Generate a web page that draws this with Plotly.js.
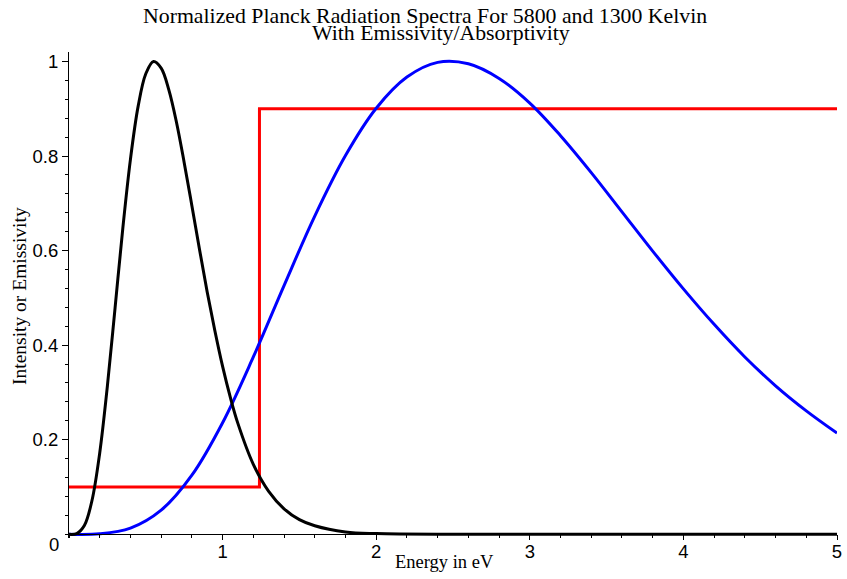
<!DOCTYPE html>
<html>
<head>
<meta charset="utf-8">
<script src="https://cdn.plot.ly/plotly-3.0.1.min.js"></script>
<style>html,body{margin:0;padding:0;background:#fff;}#chart{width:847px;height:579px;}</style>
</head>
<body>
<div id="chart"></div>
<script>
// ---- data ----
const hotEnergy = [0,0.2,0.4,0.6,0.8,1.0,1.2,1.4,1.6,1.8,2.0,2.2,2.4,2.6,2.8,3.0,3.2,3.4,3.6,3.8,4.0,4.2,4.4,4.6,4.8,5.0];
const hotIntensity = [0,0.001,0.013,0.051,0.125,0.236,0.375,0.526,0.673,0.801,0.901,0.967,0.998,0.995,0.964,0.912,0.843,0.765,0.682,0.599,0.519,0.444,0.375,0.314,0.261,0.214];

const coolEnergy = [0,0.05,0.1,0.15,0.2,0.25,0.3,0.35,0.4,0.45,0.5,0.55,0.6,0.65,0.7,0.75,0.8,0.85,0.9,0.95,1.0,1.05,1.1,1.2,1.3,1.4,1.5,1.6,1.8,2.0,2.5,3,4,5];
const coolIntensity = [0,0.0015,0.0185,0.072,0.172,0.314,0.479,0.646,0.793,0.905,0.974,1.0,0.986,0.940,0.871,0.786,0.695,0.602,0.512,0.430,0.355,0.290,0.234,0.148,0.091,0.054,0.031,0.018,0.005,0.0015,0,0,0,0];

const emisEnergy = [0,1.24,1.24,5];
const emisValue = [0.1,0.1,0.9,0.9];

const xTickVals = [1,2,3,4,5];
const xTickText = ['1','2','3','4','5'];
const yTickVals = [0.2,0.4,0.6,0.8,1];
const yTickText = ['0.2','0.4','0.6','0.8','1'];

const titleLine1 = 'Normalized Planck Radiation Spectra For 5800 and 1300 Kelvin';
const titleLine2 = 'With Emissivity/Absorptivity';
const xTitle = 'Energy in eV';
const yTitle = 'Intensity or Emissivity';

// ---- layout geometry ----
const W = 847, H = 579;
const M = {l: 69, r: 10, t: 52, b: 41};
const plotH = H - M.t - M.b;
const plotW = W - M.l - M.r;
const yMax = 1.02;
const zeroPx = 534.3;              // pixel row of y = 0
const yMin = yMax - (yMax) * plotH / (zeroPx - M.t);
const py = p => (H - M.b - p) / plotH;   // pixel row -> paper y
const px = p => (p - M.l) / plotW;       // pixel col -> paper x

const serif = 'Liberation Serif, Times New Roman, serif';
const sans = 'Liberation Sans, Arial, sans-serif';

const traces = [
  {x: emisEnergy, y: emisValue, mode: 'lines', line: {color: '#ff0000', width: 3}, hoverinfo: 'skip'},
  {x: hotEnergy, y: hotIntensity, mode: 'lines', line: {color: '#0000ff', width: 3, shape: 'spline', smoothing: 1}, hoverinfo: 'skip'},
  {x: coolEnergy, y: coolIntensity, mode: 'lines', line: {color: '#000000', width: 3, shape: 'spline', smoothing: 1}, hoverinfo: 'skip'}
];

const layout = {
  width: W, height: H,
  margin: M,
  paper_bgcolor: '#fff', plot_bgcolor: '#fff',
  showlegend: false,
  xaxis: {
    range: [0, 5], anchor: 'free', position: (0 - yMin) / (yMax - yMin),
    showline: true, linecolor: '#000', linewidth: 1,
    showgrid: false, zeroline: false,
    ticks: 'outside', ticklen: 5, tickwidth: 1, tickcolor: '#000',
    ticklabelstandoff: -5,
    tickvals: xTickVals, ticktext: xTickText,
    tickfont: {family: sans, size: 18.5, color: '#000'},
    minor: {dtick: 0.2, tick0: 0, ticks: 'outside', ticklen: 3, tickcolor: '#000', tickwidth: 1, showgrid: false}
  },
  yaxis: {
    range: [yMin, yMax],
    showline: true, linecolor: '#000', linewidth: 1,
    showgrid: false, zeroline: false,
    ticks: 'outside', ticklen: 6, tickwidth: 1, tickcolor: '#000',
    tickvals: yTickVals, ticktext: yTickText,
    tickfont: {family: sans, size: 18.5, color: '#000'},
    minor: {dtick: 0.04, tick0: 0, ticks: 'outside', ticklen: 3, tickcolor: '#000', tickwidth: 1, showgrid: false}
  },
  annotations: [
    {text: titleLine1, xref: 'paper', yref: 'paper', x: px(424.5), y: py(16.5), xanchor: 'center', yanchor: 'middle', showarrow: false, font: {family: serif, size: 21.8, color: '#000'}},
    {text: titleLine2, xref: 'paper', yref: 'paper', x: px(441), y: py(33), xanchor: 'center', yanchor: 'middle', showarrow: false, font: {family: serif, size: 21.8, color: '#000'}},
    {text: xTitle, xref: 'paper', yref: 'paper', x: px(444.7), y: py(562), xanchor: 'center', yanchor: 'middle', showarrow: false, font: {family: serif, size: 18.5, color: '#000'}},
    {text: yTitle, xref: 'paper', yref: 'paper', x: px(19), y: py(296), xanchor: 'center', yanchor: 'middle', textangle: -90, showarrow: false, font: {family: serif, size: 19.5, color: '#000'}},
    {text: '0', xref: 'paper', yref: 'paper', x: px(61), y: py(544), xanchor: 'right', yanchor: 'middle', showarrow: false, font: {family: sans, size: 18.5, color: '#000'}}
  ]
};

Plotly.newPlot('chart', traces, layout, {staticPlot: true, displayModeBar: false});
</script>
</body>
</html>
